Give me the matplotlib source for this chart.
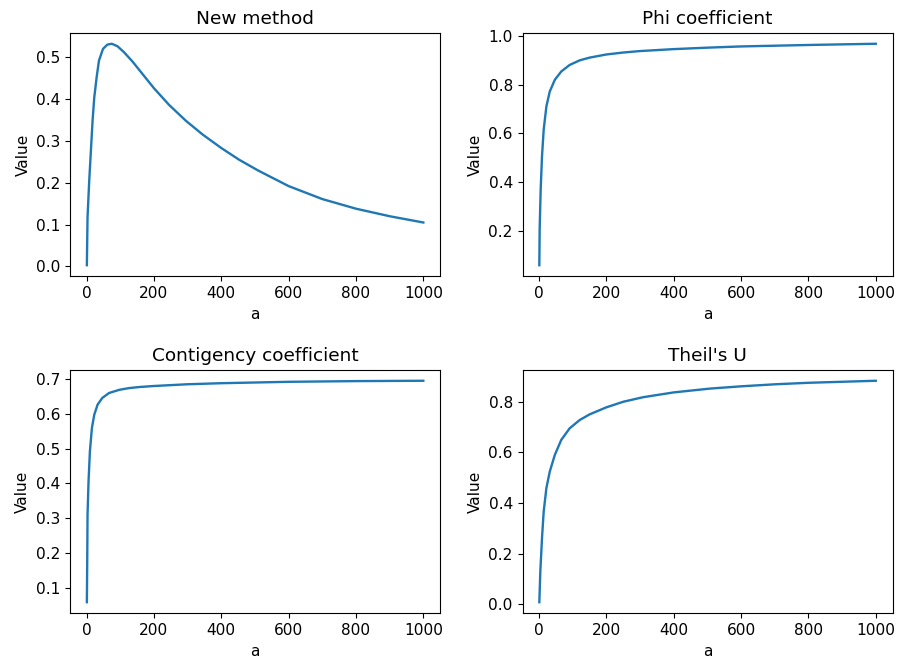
import numpy as np
import matplotlib
matplotlib.use('Agg')
import matplotlib.pyplot as plt

# values
a_new = [1, 3, 8, 13, 18, 23, 30, 37, 49, 62, 75, 92, 111, 136, 156, 200, 245,
         295, 345, 400, 453, 510, 600, 700, 800, 900, 1000]
v_new = [0.003, 0.118, 0.205, 0.277, 0.349, 0.404, 0.452, 0.492, 0.52, 0.53,
         0.532, 0.526, 0.512, 0.49, 0.47, 0.426, 0.386, 0.348, 0.315, 0.283,
         0.255, 0.229, 0.192, 0.161, 0.138, 0.12, 0.105]

a_phi = [1, 2, 5, 9, 14, 22, 32, 47, 66, 91, 121, 150, 200, 250, 300, 400, 500,
         600, 800, 1000]
v_phi = [0.059, 0.207, 0.37, 0.507, 0.616, 0.711, 0.772, 0.82, 0.854, 0.881,
         0.9, 0.911, 0.924, 0.932, 0.938, 0.946, 0.952, 0.957, 0.963, 0.968]

a_con = [1, 2, 3, 6, 10, 16, 23, 33, 47, 67, 97, 126, 156, 200, 300, 400, 600,
         800, 1000]
v_con = [0.06, 0.169, 0.311, 0.407, 0.492, 0.559, 0.597, 0.626, 0.645, 0.659,
         0.668, 0.673, 0.676, 0.679, 0.684, 0.687, 0.691, 0.693, 0.694]

a_theil = [1, 4, 9, 14, 22, 32, 47, 66, 91, 121, 150, 200, 250, 309, 400, 507,
           600, 700, 800, 900, 1000]
v_theil = [0.008, 0.131, 0.262, 0.367, 0.459, 0.524, 0.59, 0.649, 0.695, 0.728,
           0.75, 0.778, 0.8, 0.818, 0.837, 0.852, 0.861, 0.869, 0.875, 0.879,
           0.883]

titles = ['New method', 'Phi coefficient', 'Contigency coefficient', "Theil's U"]

fig, axes = plt.subplots(2, 2, figsize=(8.98, 6.63), dpi=100)
series = [(a_new, v_new), (a_phi, v_phi), (a_con, v_con), (a_theil, v_theil)]
for ax, (x, y), t in zip(axes.flat, series, titles):
    ax.plot(x, y, color='#1f77b4', lw=1.7)
    ax.set_title(t, fontsize=13.3)
    ax.set_xlabel('a', fontsize=11.1)
    ax.set_ylabel('Value', fontsize=11.1)
    ax.set_xticks([0, 200, 400, 600, 800, 1000])
    ax.tick_params(labelsize=11.1)

plt.subplots_adjust(left=0.078, right=0.994, top=0.9507, bottom=0.075,
                    wspace=0.2225, hspace=0.3835)
plt.savefig('out.png', dpi=100)
